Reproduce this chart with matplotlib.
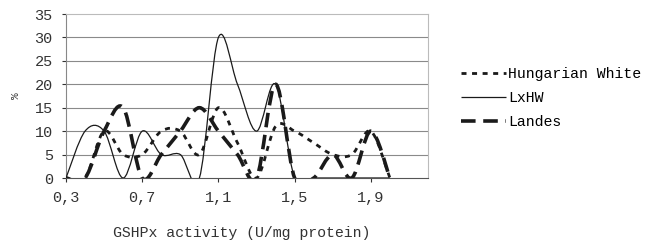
import numpy as np
import matplotlib
matplotlib.use("Agg")
import matplotlib.pyplot as plt
from matplotlib.path import Path
from matplotlib.patches import PathPatch
from matplotlib.lines import Line2D

plt.rcParams['font.family'] = ['Liberation Mono', 'DejaVu Sans Mono']
plt.rcParams['lines.scale_dashes'] = False

# category axis 0,3 ... 2,2 (step 0,1)
categories = [0.3, 0.4, 0.5, 0.6, 0.7, 0.8, 0.9, 1.0, 1.1, 1.2,
              1.3, 1.4, 1.5, 1.6, 1.7, 1.8, 1.9, 2.0, 2.1, 2.2]
tick_values = [0.3, 0.7, 1.1, 1.5, 1.9]
tick_labels = ['0,3', '0,7', '1,1', '1,5', '1,9']

# percentages (series end at 2,0)
hungarian_white = [0, 0, 10, 5, 5, 10, 10, 5, 15, 7.5, 0, 11, 10, 7.5, 5, 5, 10, 0]
lxhw = [0, 10, 10, 0, 10, 5, 5, 0, 30, 20, 10, 20, 0, 0, 0, 0, 0, 0]
landes = [0, 0, 10, 15, 0, 5, 10, 15, 10, 5, 0, 20, 0, 0, 5, 0, 10, 0]

series = [
    ('Hungarian White', hungarian_white, dict(lw=2.0, dashes=(3.6, 4.0))),
    ('LxHW', lxhw, dict(lw=0.9, dashes=None)),
    ('Landes', landes, dict(lw=2.6, dashes=(10.5, 5.5))),
]


def smooth_path(xs, ys):
    # Excel-style smoothed line: cubic bezier through each point
    P = np.column_stack([xs, ys]).astype(float)
    n = len(P)
    verts = [P[0]]
    codes = [Path.MOVETO]
    for i in range(n - 1):
        p_prev = P[i - 1] if i > 0 else P[i]
        p_next2 = P[i + 2] if i + 2 < n else P[i + 1]
        c1 = P[i] + (P[i + 1] - p_prev) / 6.0
        c2 = P[i + 1] - (p_next2 - P[i]) / 6.0
        verts += [c1, c2, P[i + 1]]
        codes += [Path.CURVE4] * 3
    return Path(verts, codes)


fig = plt.figure(figsize=(6.52, 2.41), dpi=100)
ax = fig.add_axes([66 / 652, 1 - 178 / 241, 362 / 652, 164 / 241])

ax.set_xlim(categories[0], categories[-1])
ax.set_ylim(0, 35)

for y in range(5, 31, 5):
    ax.axhline(y, color='#8a8a8a', lw=0.8, zorder=1)

handles = []
for name, vals, st in series:
    xs = categories[:len(vals)]
    ls = '-' if st['dashes'] is None else (0, st['dashes'])
    patch = PathPatch(smooth_path(xs, vals), fill=False, edgecolor='#1a1a1a',
                      lw=st['lw'], linestyle=ls, capstyle='butt', zorder=3)
    ax.add_patch(patch)
    h = Line2D([], [], color='#1a1a1a', lw=st['lw'], linestyle=ls,
               solid_capstyle='butt', dash_capstyle='butt')
    handles.append(h)

ax.set_xticks(tick_values)
ax.set_xticklabels(tick_labels)
ax.set_yticks(range(0, 36, 5))
ax.tick_params(axis='both', labelsize=11, colors='#333333', length=3, width=0.8)
ax.tick_params(axis='x', pad=6.5)
ax.tick_params(axis='y', pad=6.5)

for s in ['top', 'right']:
    ax.spines[s].set_color('#bbbbbb')
    ax.spines[s].set_linewidth(0.8)
ax.spines['left'].set_color('#888888')
ax.spines['left'].set_linewidth(0.8)
ax.spines['bottom'].set_color('#555555')
ax.spines['bottom'].set_linewidth(0.8)

ax.set_xlabel('GSHPx activity (U/mg protein)', fontsize=10.7, color='#333333')
ax.xaxis.set_label_coords(0.486, -0.295)
ax.set_ylabel('%', fontsize=8, color='#333333')
ax.yaxis.set_label_coords(-0.125, 0.5)

ax.legend(handles, [s[0] for s in series], loc='center left',
          bbox_to_anchor=(461 / 652, 1 - 98 / 241), bbox_transform=fig.transFigure,
          frameon=False, fontsize=10.7, handlelength=3.0, handletextpad=0.15,
          labelspacing=0.68, borderpad=0, borderaxespad=0)

fig.savefig('out.png', dpi=100)
